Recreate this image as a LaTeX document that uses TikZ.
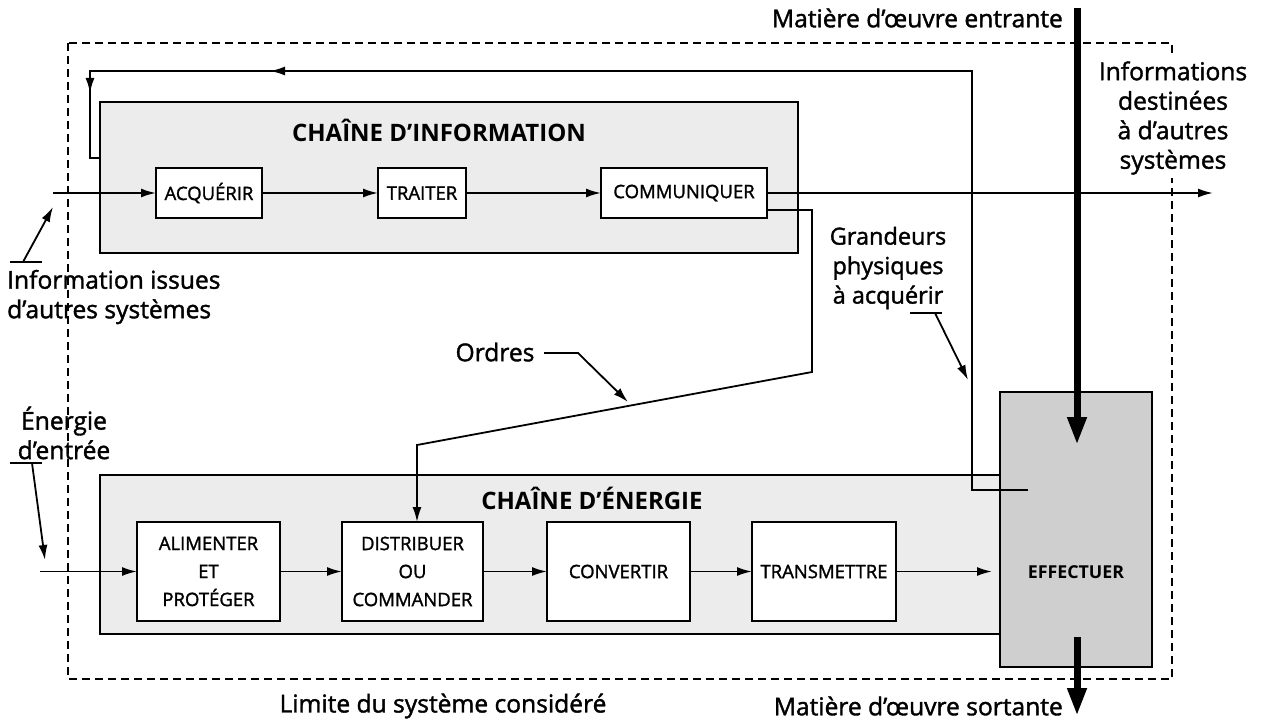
\documentclass[tikz,border=0pt]{standalone}
\usepackage{fontspec}
\setmainfont{Open Sans}[FakeBold=1.5]
\newfontfamily\titfam{Open Sans}
\usetikzlibrary{arrows.meta,calc}
\newcommand\labf{\fontsize{24.6}{29.5}\selectfont}
\newcommand\graf{\fontsize{23.5}{29.5}\selectfont}
\newcommand\boxf{\fontsize{18.5}{28}\selectfont}
\newcommand\titf{\titfam\fontsize{24}{26}\selectfont\bfseries}
\newcommand\efff{\titfam\fontsize{17.8}{20}\selectfont\bfseries}
\begin{document}
\begin{tikzpicture}[x=1pt,y=-1pt,
  blk/.style={draw=black,line width=1.8pt,fill=white,inner sep=0pt,outer sep=0pt,align=center,font=\boxf},
  chain/.style={draw=black,line width=1.6pt,fill=gray!15,inner sep=0pt,outer sep=0pt},
  conn/.style={line width=1.8pt},
  arr/.style={conn,-{Latex[length=15pt,width=9pt]}},
  lab/.style={font=\labf,align=center,inner sep=0pt},
  mflow/.style={line width=7pt,-{Triangle[length=28pt,width=18pt]}},
  boundary/.style={line width=1.4pt,dash pattern=on 8pt off 5pt}]
\useasboundingbox (0,0) rectangle (1265,722);
% system limit
\draw[boundary] (68,43) rectangle (1172,679);
% chains
\node[chain,minimum width=698pt,minimum height=151pt] (ci) at (449,177.5) {};
\node[chain,minimum width=900pt,minimum height=159pt] (ce) at (550,554.5) {};
\node[draw=black,line width=1.8pt,fill=gray!38,inner sep=0pt,outer sep=0pt,minimum width=152pt,minimum height=275pt] (eff) at (1076,529.5) {};
\node[font=\efff,inner sep=0pt] (efflab) at (1076,572) {EFFECTUER};
\node[font=\titf,inner sep=0pt] (tci) at (439,130) {CHAÎNE D’INFORMATION};
\node[font=\titf,inner sep=0pt] (tce) at (592,498) {CHAÎNE D’ÉNERGIE};
% blocks
\node[blk,minimum width=106pt,minimum height=50pt] (acq) at (209,193) {ACQUÉRIR};
\node[blk,minimum width=88pt,minimum height=50pt] (tra) at (422,193) {TRAITER};
\node[blk,minimum width=166pt,minimum height=50pt] (com) at (684,193) {COMMUNIQUER};
\node[blk,minimum width=143pt,minimum height=99pt] (ali) at (208.5,571.5) {ALIMENTER\\ET\\PROTÉGER};
\node[blk,minimum width=141pt,minimum height=99pt] (dis) at (412.5,571.5) {DISTRIBUER\\OU\\COMMANDER};
\node[blk,minimum width=143pt,minimum height=99pt] (con) at (618.5,571.5) {CONVERTIR};
\node[blk,minimum width=144pt,minimum height=99pt] (trm) at (824,571.5) {TRANSMETTRE};
% information chain flow
\coordinate (iin) at (53,193);
\coordinate (iout) at (1213,193);
\draw[arr] (iin) -- (acq.west);
\draw[arr] (acq) -- (tra);
\draw[arr] (tra) -- (com);
\draw[arr] (com) -- (iout);
% physical quantities feedback
\coordinate (g1) at (1028,490);
\coordinate (g2) at (972,490);
\coordinate (g3) at (972,71);
\coordinate (g4) at (90,71);
\coordinate (g5) at (90,158);
\coordinate (a1) at (270,71);
\coordinate (a2) at (90,93);
\draw[conn] (g1) -- (g2) -- (g3) -- (g4) -- (g5) -- (g5 -| ci.west);
\draw[arr] (g3) -- (a1);
\draw[arr] (g4) -- (a2);
% orders
\coordinate (o1) at ($(com.east)+(0,17)$);
\coordinate (o2) at (812,210);
\coordinate (o3) at (812,372);
\coordinate (o4) at (417,445);
\draw[arr] (o1) -- (o2) -- (o3) -- (o4) -- (o4 |- dis.north);
% energy chain flow
\coordinate (ein) at (40,571.5);
\coordinate (eout) at (992,571.5);
\draw[arr] (ein) -- (ali.west);
\draw[arr] (ali) -- (dis);
\draw[arr] (dis) -- (con);
\draw[arr] (con) -- (trm);
\draw[arr] (trm) -- (eout);
% labels
\node[lab,anchor=west,align=left] (iiss) at (7,297) {Information issues\\d’autres systèmes};
\coordinate (u1a) at (10,262); \coordinate (u1b) at (42,262);
\coordinate (u1c) at (23,262); \coordinate (u1t) at (53,207);
\draw[conn] (u1a) -- (u1b);
\draw[arr] (u1c) -- (u1t);
\node[lab] (ener) at (64,433) {Énergie\\d’entrée};
\coordinate (u2a) at (10,463); \coordinate (u2b) at (42,463);
\coordinate (u2c) at (32,463); \coordinate (u2t) at (45,560);
\draw[conn] (u2a) -- (u2b);
\draw[arr] (u2c) -- (u2t);
\node[lab] (ord) at (495,352) {Ordres};
\coordinate (u3a) at (544,353); \coordinate (u3b) at (578,353); \coordinate (u3t) at (628,402);
\draw[arr] (u3a) -- (u3b) -- (u3t);
\node[lab,font=\graf] (gra) at (888,268) {Grandeurs\\physiques\\à acquérir};
\coordinate (u4a) at (910,313); \coordinate (u4b) at (942,313);
\coordinate (u4c) at (935,313); \coordinate (u4t) at (968,380);
\draw[conn] (u4a) -- (u4b);
\draw[arr] (u4c) -- (u4t);
\node[lab,fill=white,inner sep=3pt] (idest) at (1173,118) {Informations\\destinées\\à d’autres\\systèmes};
\node[lab,anchor=east] (ment) at (1063,18) {Matière d’œuvre entrante};
\node[lab,anchor=east] (msor) at (1063,706) {Matière d’œuvre sortante};
\node[lab] (lim) at (443,706) {Limite du système considéré};
% material flow
\coordinate (m1) at (1077,8);
\coordinate (m2) at (1077,445);
\coordinate (m3) at (1077,637);
\coordinate (m4) at (1077,716);
\draw[mflow] (m1) -- (m2);
\draw[mflow] (m3) -- (m4);
\end{tikzpicture}
\end{document}
